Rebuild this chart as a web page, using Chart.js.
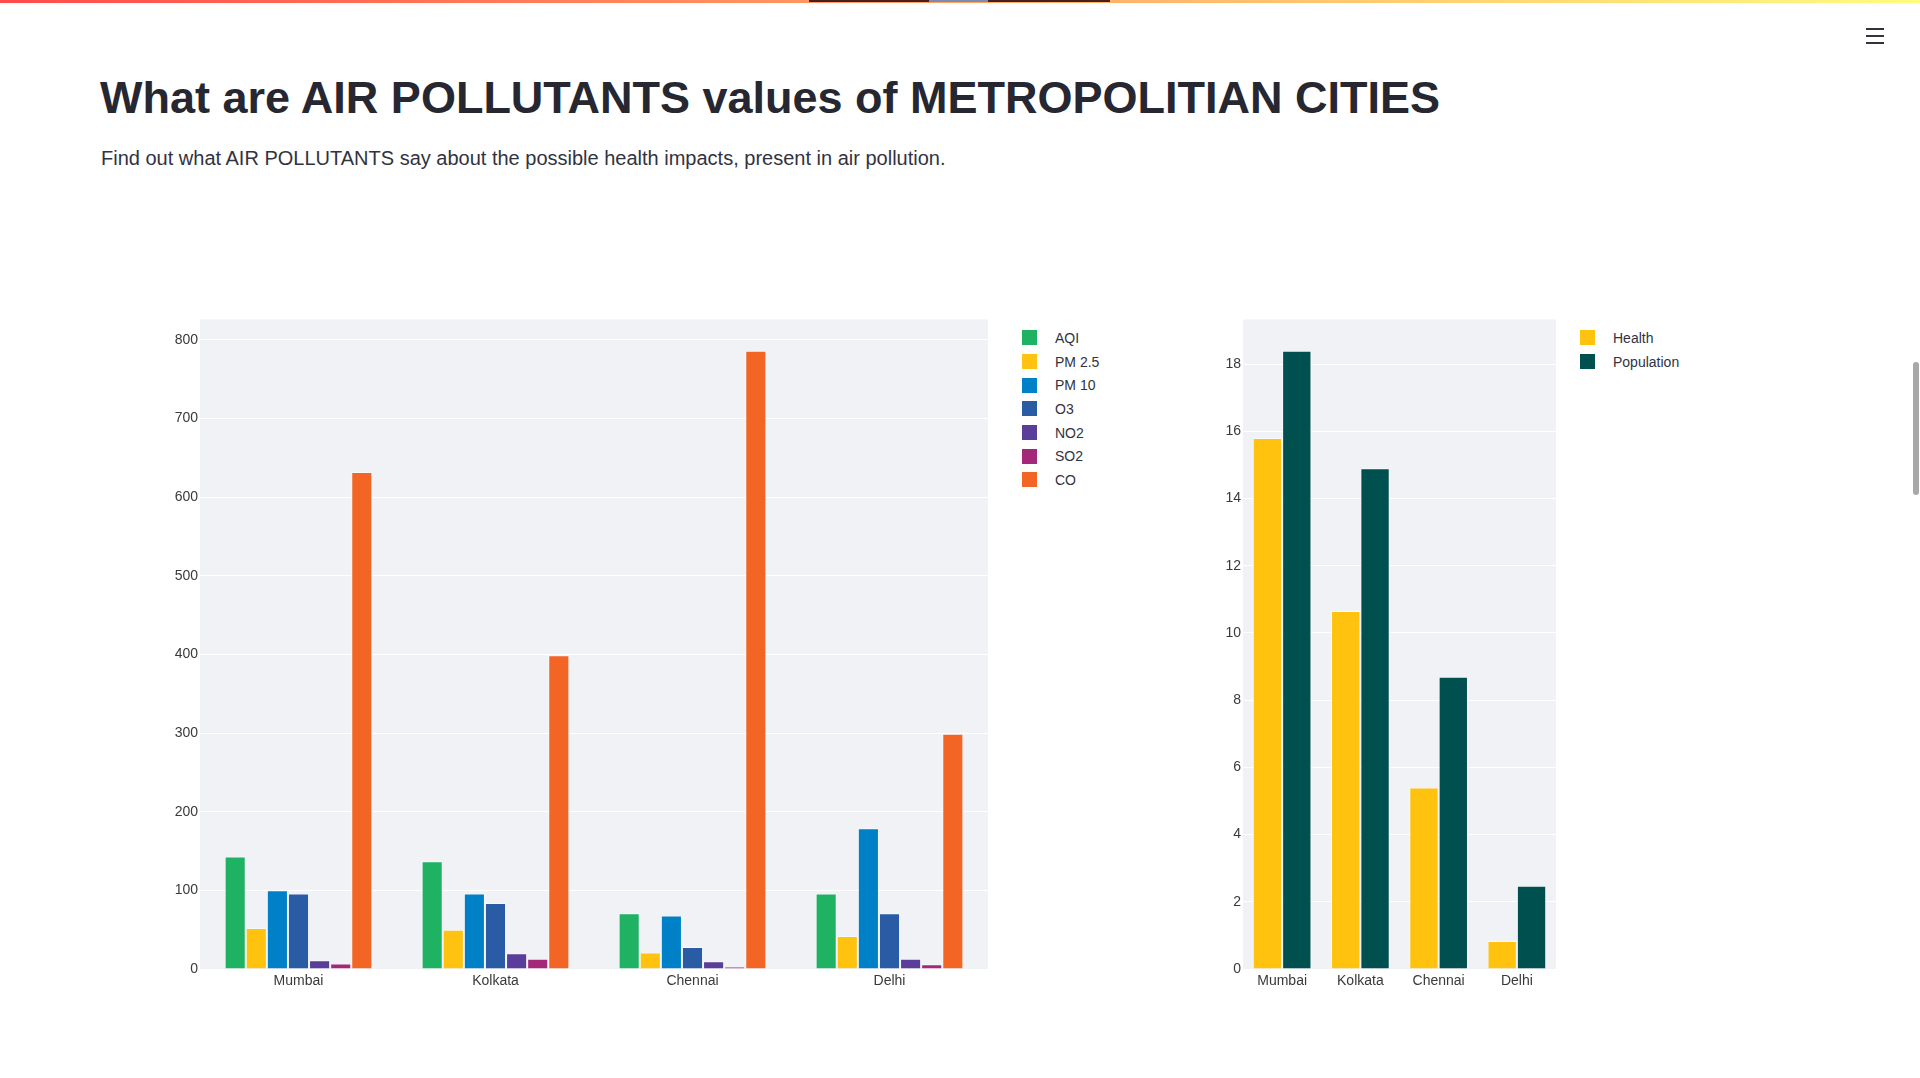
<!DOCTYPE html>
<html>
<head>
<meta charset="utf-8">
<script src="https://cdn.jsdelivr.net/npm/chart.js@4"></script>
<style>
  body { margin: 0; background: #fff; font-family: "Liberation Sans", Arial, sans-serif; overflow: hidden; }
  .topbar { position: absolute; left: 0; top: 0; width: 1920px; height: 3px;
            background: linear-gradient(90deg, rgb(255,75,75), rgb(255,253,128)); }
  .seg { position: absolute; top: 0; height: 2px; }
  .burger { position: absolute; left: 1866px; width: 18px; height: 2px; background: #31333f; }
  .scroll { position: absolute; left: 1913px; top: 362px; width: 6px; height: 133px; border-radius: 3px; background: #a8a8a8; }
  h1 { position: absolute; left: 100px; top: 72px; margin: 0; font-size: 45px; font-weight: bold;
       color: #262730; line-height: 52px; white-space: nowrap; }
  p.sub { position: absolute; left: 101px; top: 146px; margin: 0; font-size: 20px; color: #31333f;
          line-height: 24px; white-space: nowrap; }
  canvas { position: absolute; }
  .legend { position: absolute; font-size: 14px; color: #31333f; }
  .legend div { height: 23.7px; display: flex; align-items: center; }
  .legend span.sw { width: 15px; height: 15px; margin-right: 18px; display: inline-block; }
</style>
</head>
<body>
<div class="topbar"></div>
<div class="seg" style="left:809px;width:301px;background:#4a1f1f"></div>
<div class="seg" style="left:929px;width:59px;background:#7b8db2"></div>
<div class="burger" style="top:28px"></div>
<div class="burger" style="top:35px"></div>
<div class="burger" style="top:42px"></div>
<div class="scroll"></div>

<h1>What are AIR POLLUTANTS values of METROPOLITIAN CITIES</h1>
<p class="sub">Find out what AIR POLLUTANTS say about the possible health impacts, present in air pollution.</p>

<canvas id="pollutantChart" width="850" height="700" style="left:140px;top:309px"></canvas>
<div id="pollutantLegend" class="legend" style="left:1022px;top:326px"></div>
<canvas id="healthChart" width="375" height="700" style="left:1183px;top:309px"></canvas>
<div id="healthLegend" class="legend" style="left:1580px;top:326px"></div>

<script>
// cities on the x axis
const cities = ['Mumbai', 'Kolkata', 'Chennai', 'Delhi'];

// pollutant values per city
const aqi  = [143, 137, 71, 96];
const pm25 = [52, 50, 21, 42];
const pm10 = [100, 96, 68, 179];
const o3   = [96, 84, 28, 71];
const no2  = [11, 20, 10, 13];
const so2  = [7, 13, 3, 6];
const co   = [632, 399, 786, 299];

// second chart
const health     = [15.8, 10.65, 5.4, 0.83];
const population = [18.4, 14.9, 8.7, 2.48];

// tick steps
const pollutantStep = 100;
const healthStep = 2;

Chart.defaults.font.family = '"Liberation Sans", Arial, sans-serif';
Chart.defaults.font.size = 14;
Chart.defaults.color = '#3a3a3a';

// fill the plot area with the light grey background
const plotBg = {
  id: 'plotBg',
  beforeDraw(chart) {
    const a = chart.chartArea;
    const ctx = chart.ctx;
    ctx.save();
    ctx.fillStyle = '#f0f2f6';
    ctx.fillRect(a.left, a.top, a.right - a.left, a.bottom - a.top);
    ctx.restore();
  }
};

function makeDataset(label, values, color) {
  return {
    label: label,
    data: values,
    backgroundColor: color,
    borderColor: 'rgba(255,255,255,0.55)',
    borderWidth: 1,
    categoryPercentage: 0.75,
    barPercentage: 1.0
  };
}

function makeOptions(max, step) {
  return {
    responsive: false,
    animation: false,
    devicePixelRatio: 1,
    layout: { padding: { top: 10, right: 2, left: 0, bottom: 0 } },
    plugins: { legend: { display: false }, tooltip: { enabled: false } },
    scales: {
      x: {
        grid: { display: false },
        border: { display: false },
        ticks: { padding: -4, color: '#3a3a3a' },
        afterFit(scale) { scale.height = 40; }
      },
      y: {
        min: 0,
        max: max,
        ticks: { stepSize: step, padding: 2, color: '#3a3a3a' },
        grid: { color: '#ffffff', lineWidth: 1, drawTicks: false },
        border: { display: false },
        afterBuildTicks(scale) {
          scale.ticks = scale.ticks.filter(t => Math.abs(t.value / step - Math.round(t.value / step)) < 1e-6);
        },
        afterFit(scale) { scale.width = 60; }
      }
    }
  };
}

function buildLegend(id, datasets) {
  const box = document.getElementById(id);
  datasets.forEach(ds => {
    const row = document.createElement('div');
    const sw = document.createElement('span');
    sw.className = 'sw';
    sw.style.background = ds.backgroundColor;
    row.appendChild(sw);
    row.appendChild(document.createTextNode(ds.label));
    box.appendChild(row);
  });
}

const pollutantSets = [
  makeDataset('AQI', aqi, '#1fb263'),
  makeDataset('PM 2.5', pm25, '#ffc20e'),
  makeDataset('PM 10', pm10, '#0080c6'),
  makeDataset('O3', o3, '#2a5ca5'),
  makeDataset('NO2', no2, '#5a3e99'),
  makeDataset('SO2', so2, '#a3287a'),
  makeDataset('CO', co, '#f26524')
];

const healthSets = [
  makeDataset('Health', health, '#ffc20e'),
  makeDataset('Population', population, '#00504f')
];

new Chart(document.getElementById('pollutantChart').getContext('2d'), {
  type: 'bar',
  data: { labels: cities, datasets: pollutantSets },
  options: makeOptions(826, pollutantStep),
  plugins: [plotBg]
});

new Chart(document.getElementById('healthChart').getContext('2d'), {
  type: 'bar',
  data: { labels: cities, datasets: healthSets },
  options: makeOptions(19.33, healthStep),
  plugins: [plotBg]
});

buildLegend('pollutantLegend', pollutantSets);
buildLegend('healthLegend', healthSets);
</script>
</body>
</html>
